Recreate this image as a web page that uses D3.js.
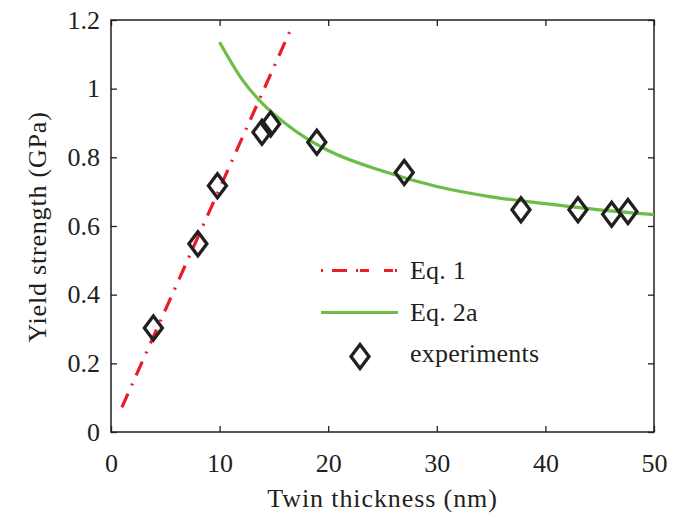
<!DOCTYPE html>
<html><head><meta charset="utf-8">
<script src="https://cdn.jsdelivr.net/npm/d3@7"></script>
<style>body{margin:0;background:#fff}svg{display:block}text{font-family:"Liberation Serif","Times New Roman",serif;fill:#231f20}</style>
</head><body><svg id="c" width="685" height="516"></svg>
<script>
const xTicks = [0, 10, 20, 30, 40, 50];
const yTicks = [0, 0.2, 0.4, 0.6, 0.8, 1.0, 1.2];
const yTickLabels = ["0", "0.2", "0.4", "0.6", "0.8", "1", "1.2"];
const expX = [3.9, 8.0, 9.8, 13.9, 14.7, 18.95, 27.0, 37.75, 43.0, 46.1, 47.6];
const expY = [0.303, 0.548, 0.717, 0.873, 0.897, 0.844, 0.756, 0.647, 0.647, 0.634, 0.642];
const eq1X = [1.0, 16.65];
const eq1Y = [0.072, 1.18];
const eq2X = [10, 12, 14, 16, 18, 20, 25, 30, 35, 40, 45, 50];
const eq2Y = [1.135, 1.03, 0.955, 0.90, 0.855, 0.82, 0.76, 0.715, 0.685, 0.665, 0.647, 0.633];
const legendLabels = ["Eq. 1", "Eq. 2a", "experiments"];

(function(){
const svg = d3.select("#c");
const m = {l:111, r:654, t:20, b:432};
const x = d3.scaleLinear().domain([0,50]).range([m.l, m.r]);
const y = d3.scaleLinear().domain([0,1.2]).range([m.b, m.t]);
const ink = "#231f20";
const red = "#ec1c24", green = "#6cbd45";
const fs = 26;

svg.append("rect").attr("x",m.l).attr("y",m.t).attr("width",m.r-m.l).attr("height",m.b-m.t)
  .attr("fill","none").attr("stroke",ink).attr("stroke-width",1.5);

const tk = 6;
const gB = svg.append("g").attr("transform",`translate(0,${m.b})`)
  .call(d3.axisBottom(x).tickValues(xTicks).tickSize(-tk).tickPadding(22).tickFormat(d3.format("d")));
const gT = svg.append("g").attr("transform",`translate(0,${m.t})`)
  .call(d3.axisTop(x).tickValues(xTicks).tickSize(-tk).tickFormat(""));
const gL = svg.append("g").attr("transform",`translate(${m.l},0)`)
  .call(d3.axisLeft(y).tickValues(yTicks).tickSize(-tk).tickPadding(11).tickFormat((d,i)=>yTickLabels[i]));
const gR = svg.append("g").attr("transform",`translate(${m.r},0)`)
  .call(d3.axisRight(y).tickValues(yTicks).tickSize(-tk).tickFormat(""));
[gB, gT, gL, gR].forEach(g=>{
  g.select(".domain").remove();
  g.selectAll(".tick line").attr("stroke",ink).attr("stroke-width",1.3);
  g.selectAll(".tick text").attr("font-size",fs).attr("font-family","Liberation Serif").attr("fill",ink);
});

svg.append("clipPath").attr("id","cp").append("rect").attr("x",m.l).attr("y",m.t).attr("width",m.r-m.l).attr("height",m.b-m.t);

const g = svg.append("g").attr("clip-path","url(#cp)");
g.append("path").datum(eq2X.map((v,i)=>[v,eq2Y[i]]))
  .attr("d", d3.line().x(d=>x(d[0])).y(d=>y(d[1])).curve(d3.curveMonotoneX))
  .attr("fill","none").attr("stroke",green).attr("stroke-width",3.2);
g.append("path").datum(eq1X.map((v,i)=>[v,eq1Y[i]]))
  .attr("d", d3.line().x(d=>x(d[0])).y(d=>y(d[1]))).attr("fill","none").attr("stroke",red).attr("stroke-width",3.2)
  .attr("stroke-dasharray","15,9,2,9");

const diamond = (cx,cy)=>`M${cx},${cy-12}L${cx+9},${cy}L${cx},${cy+12}L${cx-9},${cy}Z`;
svg.append("g").selectAll("path").data(expX.map((v,i)=>[v,expY[i]])).join("path")
  .attr("d", d=>diamond(x(d[0]), y(d[1]))).attr("fill","none").attr("stroke",ink).attr("stroke-width",3.3);

const lg = svg.append("g");
lg.append("line").attr("x1",321).attr("x2",398).attr("y1",270.5).attr("y2",270.5)
  .attr("stroke",red).attr("stroke-width",3.2).attr("stroke-dasharray","2,9,15,9,2");
lg.append("line").attr("x1",321).attr("x2",398).attr("y1",312.5).attr("y2",312.5)
  .attr("stroke",green).attr("stroke-width",3.2);
lg.append("path").attr("d",diamond(360,356.5)).attr("fill","none").attr("stroke",ink).attr("stroke-width",3.3);
lg.selectAll("text").data(legendLabels).join("text")
  .attr("x",410).attr("y",(d,i)=>279+i*41.5).attr("font-size",fs).attr("letter-spacing",0.2).text(d=>d);

svg.append("text").attr("x",(m.l+m.r)/2).attr("y",507).attr("text-anchor","middle").attr("font-size",fs)
  .attr("letter-spacing",0.9).text("Twin thickness (nm)");
svg.append("text").attr("transform",`translate(46,${(m.t+m.b)/2+1}) rotate(-90)`).attr("text-anchor","middle").attr("font-size",fs)
  .attr("letter-spacing",0.8).text("Yield strength (GPa)");
})();
</script></body></html>
